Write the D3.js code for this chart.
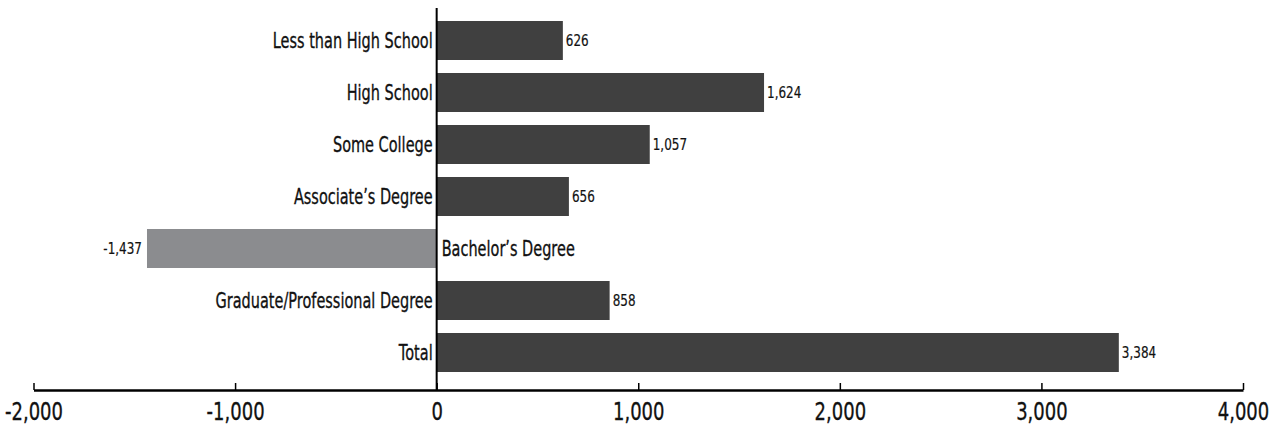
<!DOCTYPE html>
<html><head><meta charset="utf-8">
<script src="https://cdn.jsdelivr.net/npm/d3@7"></script>
<style>
body{margin:0;background:#fff;}
text{font-family:"DejaVu Sans","Liberation Sans",sans-serif;fill:#111;stroke:#111;stroke-width:0.35px;}
</style></head><body>
<svg id="c" width="1278" height="428"></svg>
<script>
const categories = ["Less than High School","High School","Some College","Associate’s Degree","Bachelor’s Degree","Graduate/Professional Degree","Total"];
const values = [626,1624,1057,656,-1437,858,3384];
const tickValues = [-2000,-1000,0,1000,2000,3000,4000];

const svg = d3.select("#c");
const x = d3.scaleLinear().domain([-2000,4000]).range([33.5,1243]);
const y = d3.scaleBand().domain(categories).range([14.5,378.5]).paddingInner(0.25).paddingOuter(0.125);
const loc = d3.formatLocale({decimal:".",thousands:",",grouping:[3],currency:["$",""],minus:"-"});
const fmt = loc.format(",");
const data = categories.map((c,i)=>({c, v: values[i]}));

svg.selectAll("rect.bar").data(data).enter().append("rect")
  .attr("x", d=>x(Math.min(0,d.v)))
  .attr("y", d=>y(d.c))
  .attr("width", d=>Math.abs(x(d.v)-x(0)))
  .attr("height", y.bandwidth())
  .attr("fill", d=>d.v<0 ? "#8b8c8f" : "#404040");

svg.selectAll("text.val").data(data).enter().append("text")
  .attr("transform", d=>`translate(${d.v<0 ? x(d.v)-5 : x(d.v)+3},${y(d.c)+y.bandwidth()/2}) scale(0.8,1)`)
  .attr("dy","0.36em")
  .attr("text-anchor", d=> d.v<0 ? "end" : "start")
  .style("font-size","15px")
  .style("stroke-width","0.2px")
  .text(d=>fmt(d.v));

svg.selectAll("text.cat").data(data).enter().append("text")
  .attr("transform", d=>`translate(${d.v<0 ? x(0)+5 : x(0)-4},${y(d.c)+y.bandwidth()/2}) scale(0.69,1)`)
  .attr("dy","0.35em")
  .attr("text-anchor", d=> d.v<0 ? "start" : "end")
  .style("font-size","21px")
  .text(d=>d.c);

svg.append("line").attr("x1",x(0)).attr("x2",x(0)).attr("y1",8).attr("y2",390)
  .attr("stroke","#000").attr("stroke-width",2);

const ax = svg.append("g").attr("transform","translate(0,390)")
  .call(d3.axisBottom(x).tickValues(tickValues).tickFormat(fmt).tickSize(-7).tickPadding(12).tickSizeOuter(0));
ax.select(".domain").attr("stroke","#000").attr("stroke-width",2.5);
ax.selectAll(".tick line").attr("stroke","#000").attr("stroke-width",1.5);
ax.selectAll(".tick text").style("font-size","25px").attr("fill","#111").attr("transform","scale(0.72,1)");
</script></body></html>
